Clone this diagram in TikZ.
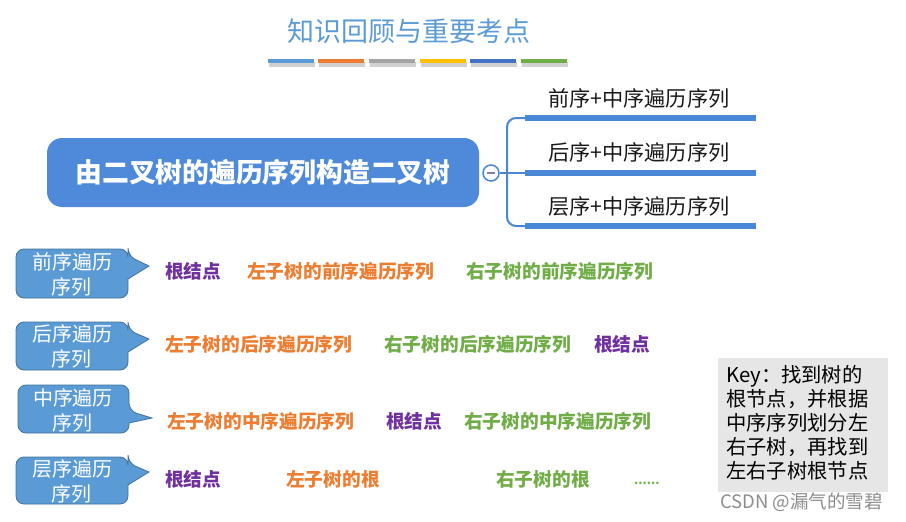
\documentclass[tikz,border=0pt]{standalone}
\usepackage{fontspec}
\setmainfont{Noto Sans CJK SC}
\definecolor{ttl}{HTML}{5B9BD5}
\definecolor{cA}{HTML}{5B9BD5}
\definecolor{cB}{HTML}{ED7D31}
\definecolor{cC}{HTML}{A5A5A5}
\definecolor{cD}{HTML}{FFC000}
\definecolor{cE}{HTML}{4472C4}
\definecolor{cF}{HTML}{70AD47}
\definecolor{mainbox}{HTML}{4E8AD9}
\definecolor{brk}{HTML}{4A86D6}
\definecolor{callfill}{HTML}{5B9BD5}
\definecolor{callline}{HTML}{41719C}
\definecolor{purp}{HTML}{7030A0}
\definecolor{orng}{HTML}{ED7D31}
\definecolor{grn}{HTML}{70AD47}
\definecolor{keyfill}{HTML}{E6E6E6}
\tikzset{
  colbar/.style={minimum width=46pt, minimum height=4pt, inner sep=0pt},
  rowtxt/.style={anchor=west, inner sep=0pt, font=\fontsize{18.7}{22}\selectfont\bfseries},
  brlabel/.style={anchor=west, inner sep=0pt, font=\fontsize{21.2}{24}\selectfont, text={black!90}},
  calltxt/.style={inner sep=0pt, align=center, text=white, font=\fontsize{20}{25}\selectfont},
  callout/.style={fill=callfill, draw=callline, line width=0.8pt, rounded corners=8pt},
  bline/.style={brk, line width=5.5pt},
  bconn/.style={brk, line width=2pt}
}
\begin{document}
\begin{tikzpicture}[x=1pt,y=-1pt]
\useasboundingbox (0,0) rectangle (906,522);
% title
\node[text=ttl, inner sep=0pt, font=\fontsize{27}{30}\selectfont] (title) at (409,31) {知识回顾与重要考点};
% colour bars
\foreach \x/\c [count=\i] in {291/cA,341/cB,392/cC,443/cD,493/cE,544/cF}{
  \fill[black!18] (\x-23+1,60+2) rectangle (\x+23+1,64+3);
  \node[colbar, fill=\c] (bar\i) at (\x,61) {};
}
% main box
\node[fill=mainbox, rounded corners=15pt, minimum width=432pt, minimum height=69pt, inner sep=0pt,
  text=white, font=\fontsize{26.8}{30}\selectfont\bfseries] (main) at (263,172.5) {由二叉树的遍历序列构造二叉树};
% collapse circle
\node[circle, draw=brk, line width=1.5pt, fill=white, minimum size=16pt, inner sep=0pt] (col) at (491,173) {};
\draw[line width=2pt, color={rgb,255:red,128;green,128;blue,176}] ([xshift=-4pt]col.center) -- ([xshift=4pt]col.center);
% bracket
\coordinate (j1) at (525,118);
\coordinate (j2) at (525,173);
\coordinate (j3) at (525,226);
\coordinate (e1) at (756,118);
\coordinate (e2) at (756,173);
\coordinate (e3) at (756,226);
\draw[bconn] (col.east) -- (j2);
\draw[bconn, rounded corners=9pt] (j1) -- (507,118) -- (507,226) -- (j3);
\draw[bline] (j1) -- (e1);
\draw[bline] (j2) -- (e2);
\draw[bline] (j3) -- (e3);
\node[brlabel] (l1) at (548,98) {前序+中序遍历序列};
\node[brlabel] (l2) at (548,152) {后序+中序遍历序列};
\node[brlabel] (l3) at (548,206) {层序+中序遍历序列};
% callouts
\draw[callout] (16,249) -- (128,249) -- (128,256) [sharp corners] -- (149,266) -- (128,279) [rounded corners=8pt] -- (128,298) -- (16,298) -- cycle;
\node[calltxt] (t1) at (72,274) {前序遍历\\序列};
\draw[callout] (16,322) -- (128,322) -- (128,330) [sharp corners] -- (149,339) -- (128,352) [rounded corners=8pt] -- (128,370) -- (16,370) -- cycle;
\node[calltxt] (t2) at (72,346) {后序遍历\\序列};
\draw[callout] (18,385) -- (129,385) -- (129,411) [sharp corners] -- (152,418) -- (129,423) [rounded corners=8pt] -- (129,433) -- (18,433) -- cycle;
\node[calltxt] (t3) at (73,410) {中序遍历\\序列};
\draw[callout] (16,457) -- (128,457) -- (128,463) [sharp corners] -- (149,472) -- (128,485) [rounded corners=8pt] -- (128,504) -- (16,504) -- cycle;
\node[calltxt] (t4) at (72,481) {层序遍历\\序列};
% rows
\node[rowtxt, text=purp] (r1a) at (165,271) {根结点};
\node[rowtxt, text=orng] (r1b) at (247,271) {左子树的前序遍历序列};
\node[rowtxt, text=grn]  (r1c) at (466,271) {右子树的前序遍历序列};
\node[rowtxt, text=orng] (r2a) at (165,344) {左子树的后序遍历序列};
\node[rowtxt, text=grn]  (r2b) at (384,344) {右子树的后序遍历序列};
\node[rowtxt, text=purp] (r2c) at (594,344) {根结点};
\node[rowtxt, text=orng] (r3a) at (167,421) {左子树的中序遍历序列};
\node[rowtxt, text=purp] (r3b) at (386,421) {根结点};
\node[rowtxt, text=grn]  (r3c) at (464,421) {右子树的中序遍历序列};
\node[rowtxt, text=purp] (r4a) at (165,479) {根结点};
\node[rowtxt, text=orng] (r4b) at (286,479) {左子树的根};
\node[rowtxt, text=grn]  (r4c) at (496,479) {右子树的根};
\node[anchor=west, inner sep=0pt, text=grn, font=\fontsize{12}{14}\selectfont\bfseries] (r4d) at (634,483) {......};
% key box
\node[fill=keyfill, minimum width=170pt, minimum height=134pt, inner sep=0pt] (keybox) at (803,425) {};
\node[anchor=north west, inner sep=0pt, align=left, font=\fontsize{20.3}{24}\selectfont] (keytxt) at (726,365)
  {Key：找到树的\\根节点，并根据\\中序序列划分左\\右子树，再找到\\左右子树根节点};
% watermark
\node[anchor=west, inner sep=0pt, text=black!45, font=\fontsize{18.5}{20}\selectfont] (wm) at (720,502) {CSDN @漏气的雪碧};
\end{tikzpicture}
\end{document}
